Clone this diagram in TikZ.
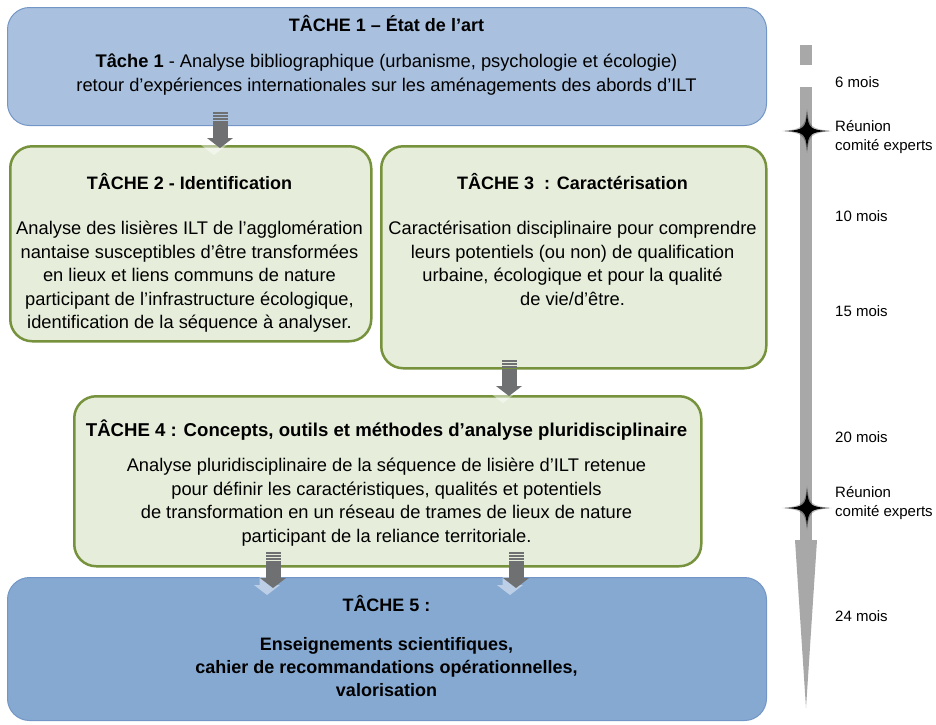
\documentclass[tikz,border=0pt]{standalone}
\usepackage{fontspec}
\setmainfont{Liberation Sans}
\usetikzlibrary{calc,positioning}
\definecolor{bluefill}{HTML}{A9C1DF}
\definecolor{bluedark}{HTML}{86A9D2}
\definecolor{blueline}{HTML}{7396C6}
\definecolor{greenfill}{HTML}{E6EEDB}
\definecolor{greenline}{HTML}{76923C}
\definecolor{arrowgrey}{HTML}{6E7072}
\definecolor{bargrey}{HTML}{A8A8A8}
\tikzstyle{bluebox} = [rectangle,rounded corners=22pt,draw=blueline,line width=1pt,fill=bluefill,inner sep=0pt,anchor=north west]
\tikzstyle{greenbox} = [rectangle,rounded corners=22pt,draw=greenline,line width=2.5pt,fill=greenfill,inner sep=0pt,anchor=north west]
\tikzstyle{boxtitle} = [font=\bfseries\fontsize{18}{24}\selectfont,inner sep=0pt,anchor=base]
\tikzstyle{boxtext} = [font=\fontsize{18.3}{23.5}\selectfont,align=center,inner sep=0pt,anchor=north,execute at begin node=\strut]
\tikzstyle{timelabel} = [font=\fontsize{15}{19.5}\selectfont,align=left,inner sep=0pt,anchor=west]
\newcommand{\taskarrow}[3]{%
  \begin{scope}[shift={($(#1,0 |- #2.north)+(0,#3)$)}]
    \fill[white,opacity=0.45,shift={(-6,7)}] (-13,-9) -- (13,-9) -- (0,1) -- cycle (-7.5,-9) rectangle (7.5,-26);
    \fill[arrowgrey] (-13,-9) -- (13,-9) -- (0,1) -- cycle;
    \fill[arrowgrey] (-7.5,-9) rectangle (7.5,-26);
    \foreach \s in {27.5,30.5,33.5}
      \fill[arrowgrey] (-7.5,-\s) rectangle (7.5,-\s-1.5);
  \end{scope}}
\newcommand{\meetstar}[1]{%
  \begin{scope}[shift={(#1)}]
    \fill[black,opacity=0.25] (-25,0) .. controls (-4,-2) and (-2,-4) .. (0,-22) .. controls (2,-4) and (4,-2) .. (25,0) .. controls (4,2) and (2,4) .. (0,22) .. controls (-2,4) and (-4,2) .. (-25,0) -- cycle;
    \fill[black] (-22,0) .. controls (-3,-1) and (-1,-3) .. (0,-19) .. controls (1,-3) and (3,-1) .. (22,0) .. controls (3,1) and (1,3) .. (0,19) .. controls (-1,3) and (-3,1) .. (-22,0) -- cycle;
  \end{scope}}
\begin{document}
\begin{tikzpicture}[x=1pt,y=-1pt]
    \useasboundingbox (0,0) rectangle (936,724);

    \node [bluebox,minimum width=759pt,minimum height=118pt] (t1) at (7,7) {};
    \node [greenbox,minimum width=361pt,minimum height=195pt] (t2) at (9,145) {};
    \node [greenbox,minimum width=385pt,minimum height=222pt] (t3) at (380,145) {};
    \node [greenbox,minimum width=627pt,minimum height=170pt] (t4) at (73,395) {};
    \node [bluebox,fill=bluedark,minimum width=759pt,minimum height=143pt] (t5) at (7,577) {};

    \node [boxtitle] (t1title) at (386.5,31) {TÂCHE 1 – État de l’art};
    \node [boxtext] (t1text) at (386.5,54) {\textbf{Tâche 1} - Analyse bibliographique (urbanisme, psychologie et écologie)\\retour d’expériences internationales sur les aménagements des abords d’ILT};

    \node [boxtitle] (t2title) at (189.5,189) {TÂCHE 2 - Identification};
    \node [boxtext] (t2text) at (189.5,221) {Analyse des lisières ILT de l’agglomération\\nantaise susceptibles d’être transformées\\en lieux et liens communs de nature\\participant de l’infrastructure écologique,\\identification de la séquence à analyser.};

    \node [boxtitle] (t3title) at (572.5,189) {TÂCHE 3~ : Caractérisation};
    \node [boxtext] (t3text) at (572.5,221) {Caractérisation disciplinaire pour comprendre\\leurs potentiels (ou non) de qualification\\urbaine, écologique et pour la qualité\\de vie/d’être.};

    \node [boxtitle,font=\bfseries\fontsize{18.6}{24}\selectfont] (t4title) at (386.5,436) {TÂCHE 4 : Concepts, outils et méthodes d’analyse pluridisciplinaire};
    \node [boxtext] (t4text) at (386.5,458) {Analyse pluridisciplinaire de la séquence de lisière d’ILT retenue\\pour définir les caractéristiques, qualités et potentiels\\de transformation en un réseau de trames de lieux de nature\\participant de la reliance territoriale.};

    \node [boxtitle] (t5title) at (386.5,611) {TÂCHE 5 :};
    \node [boxtext,font=\bfseries\fontsize{18}{23}\selectfont] (t5text) at (386.5,637) {Enseignements scientifiques,\\cahier de recommandations opérationnelles,\\valorisation};

    \taskarrow{220}{t2}{2}
    \taskarrow{509}{t4}{0}
    \taskarrow{273}{t5}{10}
    \taskarrow{516}{t5}{10}

    \fill [bargrey] (800,45) rectangle (812,65);
    \fill [bargrey] (800,87) rectangle (812,540);
    \fill [bargrey] (795,540) -- (817,540) -- (806,708) -- cycle;
    \meetstar{807,131}
    \meetstar{807,508}

    \node [timelabel] (m6) at (835,82) {6 mois};
    \node [timelabel] (r1) at (835,137) {Réunion\\comité experts};
    \node [timelabel] (m10) at (835,216) {10 mois};
    \node [timelabel] (m15) at (835,311) {15 mois};
    \node [timelabel] (m20) at (835,437) {20 mois};
    \node [timelabel] (r2) at (835,503) {Réunion\\comité experts};
    \node [timelabel] (m24) at (835,616) {24 mois};
\end{tikzpicture}
\end{document}
